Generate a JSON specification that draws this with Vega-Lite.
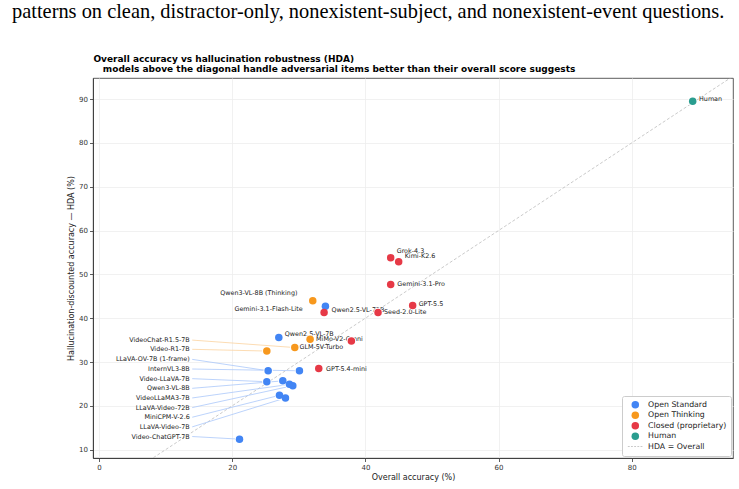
{
  "$schema": "https://vega.github.io/schema/vega-lite/v6.json",
  "width": 739,
  "height": 489,
  "autosize": {"type": "fit", "contains": "padding"},
  "padding": {"left": 12, "top": 1, "right": 6, "bottom": 7},
  "background": "white",
  "title": {
    "text": "patterns on clean, distractor-only, nonexistent-subject, and nonexistent-event questions.",
    "subtitle": [
      "\u200b\u00a0\u00a0\u00a0\u00a0\u00a0\u00a0\u00a0\u00a0\u00a0\u00a0\u00a0\u00a0\u00a0\u00a0\u00a0\u00a0\u00a0\u00a0\u00a0\u00a0\u00a0\u00a0\u00a0\u00a0\u00a0\u00a0Overall accuracy vs hallucination robustness (HDA)",
      "\u200b\u00a0\u00a0\u00a0\u00a0\u00a0\u00a0\u00a0\u00a0\u00a0\u00a0\u00a0\u00a0\u00a0\u00a0\u00a0\u00a0\u00a0\u00a0\u00a0\u00a0\u00a0\u00a0\u00a0\u00a0\u00a0\u00a0\u00a0\u00a0\u00a0models above the diagonal handle adversarial items better than their overall score suggests"
    ],
    "anchor": "start",
    "frame": "group",
    "dx": -81,
    "font": "Liberation Serif",
    "fontSize": 20.4,
    "fontWeight": "normal",
    "color": "black",
    "subtitleFont": "DejaVu Sans",
    "subtitleFontSize": 9,
    "subtitleFontWeight": "bold",
    "subtitleColor": "black",
    "subtitleLineHeight": 10,
    "subtitlePadding": 33,
    "offset": 4
  },
  "datasets": {
    "models": [
      {"name": "Human", "group": "Human", "x": 89.15, "y": 89.5, "lx": 90.1, "ly": 90.0, "side": "right"},
      {"name": "Grok-4.3", "group": "Closed (proprietary)", "x": 43.8, "y": 53.8, "lx": 44.7, "ly": 55.4, "side": "right"},
      {"name": "Kimi-K2.6", "group": "Closed (proprietary)", "x": 45.0, "y": 52.9, "lx": 45.9, "ly": 54.1, "side": "right"},
      {"name": "Gemini-3.1-Pro", "group": "Closed (proprietary)", "x": 43.8, "y": 47.7, "lx": 44.8, "ly": 47.9, "side": "right"},
      {"name": "GPT-5.5", "group": "Closed (proprietary)", "x": 47.1, "y": 42.9, "lx": 48.0, "ly": 43.3, "side": "right"},
      {"name": "Seed-2.0-Lite", "group": "Closed (proprietary)", "x": 41.9, "y": 41.3, "lx": 42.8, "ly": 41.3, "side": "right"},
      {"name": "Qwen2.5-VL-72B", "group": "Open Standard", "x": 34.0, "y": 42.7, "lx": 34.9, "ly": 41.8, "side": "right"},
      {"name": "Gemini-3.1-Flash-Lite", "group": "Closed (proprietary)", "x": 33.8, "y": 41.3, "lx": 30.6, "ly": 42.2, "side": "left"},
      {"name": "Qwen3-VL-8B (Thinking)", "group": "Open Thinking", "x": 32.1, "y": 44.0, "lx": 29.8, "ly": 45.8, "side": "left"},
      {"name": "Qwen2.5-VL-7B", "group": "Open Standard", "x": 27.0, "y": 35.6, "lx": 27.9, "ly": 36.5, "side": "right"},
      {"name": "GLM-5V-Turbo", "group": "Open Thinking", "x": 31.7, "y": 35.2, "lx": 30.1, "ly": 33.5, "side": "right"},
      {"name": "MiMo-V2-Omni", "group": "Closed (proprietary)", "x": 37.9, "y": 34.8, "lx": 32.6, "ly": 35.2, "side": "right"},
      {"name": "VideoChat-R1.5-7B", "group": "Open Thinking", "x": 29.4, "y": 33.3, "lx": 14.0, "ly": 35.0, "side": "stack"},
      {"name": "Video-R1-7B", "group": "Open Thinking", "x": 25.2, "y": 32.5, "lx": 14.0, "ly": 32.9, "side": "stack"},
      {"name": "GPT-5.4-mini", "group": "Closed (proprietary)", "x": 33.0, "y": 28.5, "lx": 34.1, "ly": 28.5, "side": "right"},
      {"name": "LLaVA-OV-7B (1-frame)", "group": "Open Standard", "x": 25.4, "y": 28.0, "lx": 14.0, "ly": 30.6, "side": "stack"},
      {"name": "InternVL3-8B", "group": "Open Standard", "x": 30.1, "y": 28.0, "lx": 14.0, "ly": 28.4, "side": "stack"},
      {"name": "Video-LLaVA-7B", "group": "Open Standard", "x": 25.2, "y": 25.5, "lx": 14.0, "ly": 26.2, "side": "stack"},
      {"name": "Qwen3-VL-8B", "group": "Open Standard", "x": 27.6, "y": 25.7, "lx": 14.0, "ly": 24.0, "side": "stack"},
      {"name": "VideoLLaMA3-7B", "group": "Open Standard", "x": 28.6, "y": 24.9, "lx": 14.0, "ly": 21.8, "side": "stack"},
      {"name": "LLaVA-Video-72B", "group": "Open Standard", "x": 29.1, "y": 24.6, "lx": 14.0, "ly": 19.6, "side": "stack"},
      {"name": "MiniCPM-V-2.6", "group": "Open Standard", "x": 27.1, "y": 22.4, "lx": 14.0, "ly": 17.4, "side": "stack"},
      {"name": "LLaVA-Video-7B", "group": "Open Standard", "x": 28.0, "y": 21.8, "lx": 14.0, "ly": 15.2, "side": "stack"},
      {"name": "Video-ChatGPT-7B", "group": "Open Standard", "x": 21.1, "y": 12.4, "lx": 14.0, "ly": 13.0, "side": "stack"}
    ],
    "diagonal": [{"v": 0}, {"v": 100}]
  },
  "data": {"name": "models"},
  "layer": [
    {
      "data": {"name": "diagonal"},
      "mark": {"type": "line", "clip": true, "color": "#bdbdbd", "strokeWidth": 0.8, "strokeDash": [3, 2]},
      "encoding": {
        "x": {"field": "v", "type": "quantitative", "title": "Overall accuracy (%)", "scale": {"domain": [-0.9, 95.2], "nice": false, "zero": false}, "axis": {"values": [0, 20, 40, 60, 80]}},
        "y": {"field": "v", "type": "quantitative", "title": "Hallucination-discounted accuracy — HDA (%)", "scale": {"domain": [8.1, 94.8], "nice": false, "zero": false}, "axis": {"values": [10, 20, 30, 40, 50, 60, 70, 80, 90]}}
      }
    },
    {
      "transform": [{"filter": "datum.side === 'stack'"}],
      "mark": {"type": "rule", "strokeWidth": 0.8},
      "encoding": {
        "x": {"field": "lx", "type": "quantitative", "title": "Overall accuracy (%)"},
        "y": {"field": "ly", "type": "quantitative", "title": "Hallucination-discounted accuracy — HDA (%)"},
        "x2": {"field": "x"},
        "y2": {"field": "y"},
        "stroke": {"field": "group", "type": "nominal", "scale": {"domain": ["Open Standard", "Open Thinking"], "range": ["#abc8fa", "#fbd3a0"]}, "legend": null}
      }
    },
    {
      "transform": [{"filter": "datum.side === 'stack'"}],
      "mark": {"type": "text", "align": "right", "baseline": "middle", "dx": -2.5, "fontSize": 6.4, "color": "#222"},
      "encoding": {
        "x": {"field": "lx", "type": "quantitative", "title": "Overall accuracy (%)"},
        "y": {"field": "ly", "type": "quantitative", "title": "Hallucination-discounted accuracy — HDA (%)"},
        "text": {"field": "name"}
      }
    },
    {
      "transform": [{"filter": "datum.side === 'left'"}],
      "mark": {"type": "text", "align": "right", "baseline": "middle", "fontSize": 6.4, "color": "#222"},
      "encoding": {
        "x": {"field": "lx", "type": "quantitative", "title": "Overall accuracy (%)"},
        "y": {"field": "ly", "type": "quantitative", "title": "Hallucination-discounted accuracy — HDA (%)"},
        "text": {"field": "name"}
      }
    },
    {
      "transform": [{"filter": "datum.side === 'right'"}],
      "mark": {"type": "text", "align": "left", "baseline": "middle", "fontSize": 6.4, "color": "#222"},
      "encoding": {
        "x": {"field": "lx", "type": "quantitative", "title": "Overall accuracy (%)"},
        "y": {"field": "ly", "type": "quantitative", "title": "Hallucination-discounted accuracy — HDA (%)"},
        "text": {"field": "name"}
      }
    },
    {
      "mark": {"type": "point", "filled": true, "size": 88, "color": "white", "opacity": 1, "strokeWidth": 0},
      "encoding": {
        "x": {"field": "x", "type": "quantitative", "title": "Overall accuracy (%)"},
        "y": {"field": "y", "type": "quantitative", "title": "Hallucination-discounted accuracy — HDA (%)"}
      }
    },
    {
      "mark": {"type": "point", "filled": true, "size": 56, "strokeWidth": 0, "opacity": 1},
      "encoding": {
        "x": {"field": "x", "type": "quantitative", "title": "Overall accuracy (%)"},
        "y": {"field": "y", "type": "quantitative", "title": "Hallucination-discounted accuracy — HDA (%)"},
        "fill": {
          "field": "group", "type": "nominal",
          "scale": {"domain": ["Open Standard", "Open Thinking", "Closed (proprietary)", "Human", "HDA = Overall"], "range": ["#4285F4", "#F7981D", "#E63946", "#2A9D8F", "#b8b8b8"]},
          "legend": {
            "title": null, "orient": "bottom-right", "offset": 2.5,
            "fillColor": "white", "strokeColor": "#cccccc", "cornerRadius": 2, "padding": 4.5,
            "labelFontSize": 7.8, "labelColor": "#222", "symbolSize": 56, "rowPadding": 1.5, "labelOffset": 8.8,
            "clipHeight": 8.4, "symbolOffset": 4.8, "symbolOpacity": 1, "symbolStrokeWidth": 0
          }
        },
        "shape": {
          "field": "group", "type": "nominal",
          "scale": {"domain": ["Open Standard", "Open Thinking", "Closed (proprietary)", "Human", "HDA = Overall"], "range": ["circle", "circle", "circle", "circle", "M-2,-0.1H-1.5V0.1H-2Z M-1.15,-0.1H-0.65V0.1H-1.15Z M-0.3,-0.1H0.2V0.1H-0.3Z M0.55,-0.1H1.05V0.1H0.55Z M1.4,-0.1H1.9V0.1H1.4Z"]},
          "legend": {
            "title": null, "orient": "bottom-right", "offset": 2.5,
            "fillColor": "white", "strokeColor": "#cccccc", "cornerRadius": 2, "padding": 4.5,
            "labelFontSize": 7.8, "labelColor": "#222", "symbolSize": 56, "rowPadding": 1.5, "labelOffset": 8.8,
            "clipHeight": 8.4, "symbolOffset": 4.8, "symbolOpacity": 1, "symbolStrokeWidth": 0
          }
        }
      }
    }
  ],
  "config": {
    "font": "DejaVu Sans",
    "view": {"stroke": "#333333", "strokeWidth": 0.8},
    "axis": {
      "domainColor": "#333333", "domainWidth": 0.8,
      "tickColor": "#333333", "tickSize": 3.5, "tickWidth": 0.8,
      "labelFontSize": 7, "labelColor": "#333333", "labelPadding": 2, "labelFlush": false,
      "titleFontSize": 8, "titleFontWeight": "normal", "titleColor": "#222222", "titlePadding": 3,
      "grid": true, "gridColor": "#eeeeee", "gridWidth": 0.8
    }
  }
}
